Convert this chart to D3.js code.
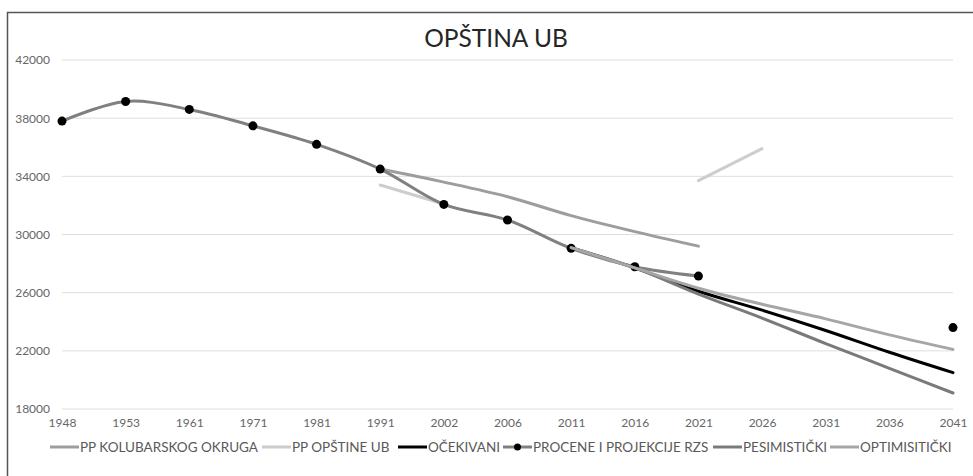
<!DOCTYPE html>
<html><head><meta charset="utf-8">
<script src="https://cdn.jsdelivr.net/npm/d3@7"></script>
<style>body{margin:0;background:#fff;}svg{display:block;font-family:Lato,"Open Sans",sans-serif;}</style>
</head><body><svg id="c" width="973" height="476"></svg>
<script>
const years = ["1948","1953","1961","1971","1981","1991","2002","2006","2011","2016","2021","2026","2031","2036","2041"];
const yTicks = [18000,22000,26000,30000,34000,38000,42000];
const kolubarski = [null,null,null,null,null,34500,33600,32600,31300,30200,29200,null,null,null,null];
const opstinaUb  = [null,null,null,null,null,33400,32100,null,null,null,33700,35900,null,null,null];
const ocekivani  = [null,null,null,null,null,null,null,null,29100,27700,26100,24800,23400,21900,20500];
const rzs        = [37800,39150,38600,37470,36200,34500,32070,31000,29050,27780,27140,null,null,null,23600];
const pesimisticki = [null,null,null,null,null,null,null,null,29100,27700,25900,24250,22500,20800,19100];
const optimisticki = [null,null,null,null,null,null,null,null,29100,27700,26300,25200,24200,23100,22100];

const series = [
  {name:"PP KOLUBARSKOG OKRUGA", vals:kolubarski, color:"#9d9d9d", w:3, dots:false},
  {name:"PP OPŠTINE UB", vals:opstinaUb, color:"#cdcdcd", w:3, dots:false},
  {name:"OČEKIVANI", vals:ocekivani, color:"#000000", w:3, dots:false},
  {name:"PROCENE I PROJEKCIJE RZS", vals:rzs, color:"#808080", w:3, dots:true},
  {name:"PESIMISTIČKI", vals:pesimisticki, color:"#7a7a7a", w:3, dots:false},
  {name:"OPTIMISITIČKI", vals:optimisticki, color:"#a6a6a6", w:3, dots:false}
];

const svg = d3.select("#c");
svg.append("rect").attr("x",7.5).attr("y",12.5).attr("width",990).attr("height",490)
  .attr("fill","#fff").attr("stroke","#555").attr("stroke-width",1.5);

const x = d3.scalePoint().domain(years).range([62,953]);
const y = d3.scaleLinear().domain([18000,42000]).range([409,60]);

svg.append("g").selectAll("line").data(yTicks).join("line")
  .attr("x1",62).attr("x2",953).attr("y1",d=>y(d)).attr("y2",d=>y(d))
  .attr("stroke","#dedede").attr("stroke-width",1);

const yAx = svg.append("g").attr("transform","translate(62,0)")
  .call(d3.axisLeft(y).tickValues(yTicks).tickSize(0).tickPadding(12).tickFormat(d3.format("d")));
yAx.select(".domain").remove();
yAx.selectAll("text").attr("fill","#666").style("font-size","12px").style("font-family","Lato,sans-serif");

const xAx = svg.append("g").attr("transform","translate(0,409)")
  .call(d3.axisBottom(x).tickSize(0).tickPadding(9));
xAx.select(".domain").remove();
xAx.selectAll("text").attr("fill","#666").style("font-size","12px").style("font-family","Lato,sans-serif");

svg.append("text").attr("x",496).attr("y",47).attr("text-anchor","middle")
  .attr("fill","#262626").style("font-size","24.5px").text("OPŠTINA UB");

const line = d3.line().defined(d=>d.v!=null).x(d=>x(d.k)).y(d=>y(d.v)).curve(d3.curveCatmullRom.alpha(0.5));

series.forEach(s=>{
  const data = years.map((k,i)=>({k, v:s.vals[i]}));
  svg.append("path").datum(data).attr("d",line).attr("fill","none")
    .attr("stroke",s.color).attr("stroke-width",s.w).attr("stroke-linecap","round");
  if(s.dots){
    svg.append("g").selectAll("circle").data(data.filter(d=>d.v!=null)).join("circle")
      .attr("cx",d=>x(d.k)).attr("cy",d=>y(d.v)).attr("r",4.5).attr("fill","#000");
  }
});

const legX = [50,262,398,503,713,830];
const lg = svg.append("g");
series.forEach((s,i)=>{
  const g = lg.append("g").attr("transform",`translate(${legX[i]},447)`);
  g.append("line").attr("x1",0).attr("x2",29).attr("y1",0).attr("y2",0)
    .attr("stroke",s.color).attr("stroke-width",3);
  if(s.dots) g.append("circle").attr("cx",14.5).attr("cy",0).attr("r",3.5).attr("fill","#000");
  g.append("text").attr("x",30).attr("y",4.8).attr("fill","#595959").style("font-size","13.5px").text(s.name);
});
</script></body></html>
